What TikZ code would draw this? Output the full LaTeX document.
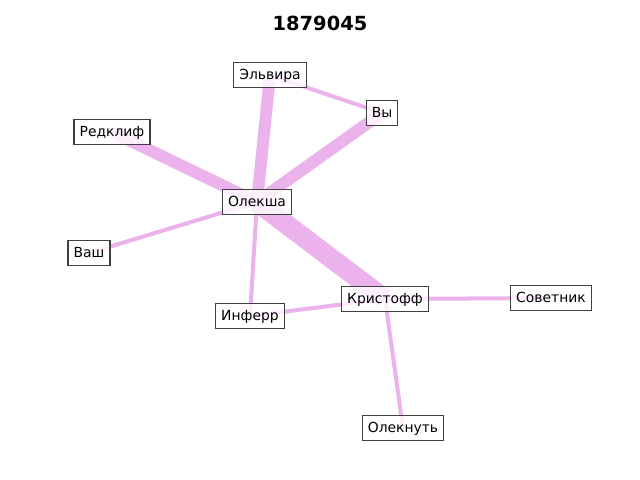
\documentclass[tikz,border=0pt]{standalone}
\usepackage{fontspec}
\setmainfont{DejaVu Sans}
\usepackage{xcolor}
\usepackage{tikz}
\usetikzlibrary{backgrounds}
\definecolor{linkviolet}{RGB}{236,178,236}

\begin{document}
\begin{tikzpicture}[
  x=0.72pt, y=-0.72pt,
  pers/.style={draw=black!75, line width=0.9pt, fill=white, fill opacity=0.8, text opacity=1, font=\fontsize{10}{12}\selectfont, inner xsep=4pt, inner ysep=0pt, minimum height=18.5pt, text height=8pt, text depth=2pt},
  lnk/.style={draw=linkviolet, line width=2.9pt},
  lnkmid/.style={lnk, line width=8.6pt},
  lnkbig/.style={lnk, line width=14.2pt}
]
\useasboundingbox (0,0) rectangle (640,480);
\node[font=\fontsize{14}{16}\selectfont\bfseries] (title) at (320,23) {1879045};
\node[pers] (elv) at (270,75)  {Эльвира};
\node[pers] (vy)  at (382,113) {Вы};
\node[pers] (red) at (112,132) {Редклиф};
\node[pers] (ole) at (257,202) {Олекша};
\node[pers] (vas) at (89,253)  {Ваш};
\node[pers] (inf) at (250,316) {Инферр};
\node[pers] (kri) at (385,299) {Кристофф};
\node[pers] (sov) at (551,298) {Советник};
\node[pers] (olk) at (403,428) {Олекнуть};
\begin{scope}[on background layer]
\draw[lnkbig] (ole.center) -- (kri.center);
\draw[lnkmid] (ole.center) -- (elv.center);
\draw[lnkmid] (ole.center) -- (vy.center);
\draw[lnkmid] (ole.center) -- (red.center);
\draw[lnk] (elv.center) -- (vy.center);
\draw[lnk] (ole.center) -- (vas.center);
\draw[lnk] (ole.center) -- (inf.center);
\draw[lnk] (inf.center) -- (kri.center);
\draw[lnk] (kri.center) -- (sov.center);
\draw[lnk] (kri.center) -- (olk.center);
\end{scope}
\end{tikzpicture}
\end{document}
